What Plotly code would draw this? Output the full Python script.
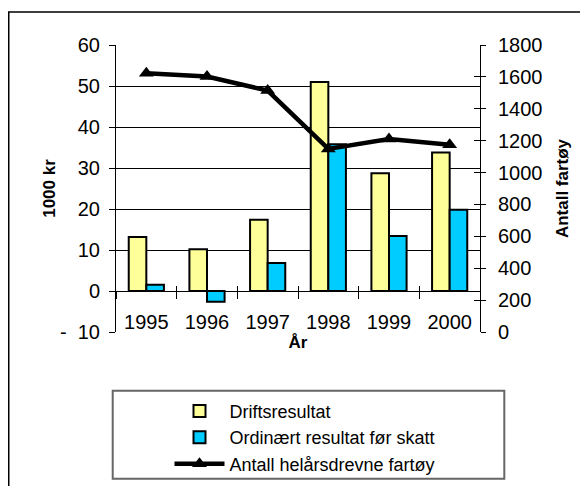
import plotly.graph_objects as go

# ---- data ----
years = ["1995", "1996", "1997", "1998", "1999", "2000"]
driftsresultat = [13.2, 10.2, 17.4, 51.0, 28.7, 33.8]
ordinaert = [1.5, -2.6, 6.8, 35.8, 13.4, 19.8]
fartoy = [1623, 1602, 1514, 1148, 1210, 1175]

left_tickvals = [-10, 0, 10, 20, 30, 40, 50, 60]
left_ticktext = ["-\u00a0\u00a010", "0", "10", "20", "30", "40", "50", "60"]
right_tickvals = [0, 200, 400, 600, 800, 1000, 1200, 1400, 1600, 1800]

FONT = "Arial, Liberation Sans, sans-serif"

# figure is drawn inside the page's 8px body margin
W, H = 580, 478
L, R, T, B = 108, 108, 37, 154
PW, PH = W - L - R, H - T - B


def px(xf):  # figure px -> paper x
    return (xf - L) / PW


def py(yf):  # figure px -> paper y
    return (H - B - yf) / PH


fig = go.Figure()
fig.add_trace(go.Bar(
    name="Driftsresultat", x=years, y=driftsresultat,
    marker=dict(color="#FFFF99", line=dict(color="black", width=2)),
))
fig.add_trace(go.Bar(
    name="Ordinært resultat før skatt", x=years, y=ordinaert,
    marker=dict(color="#00CCFF", line=dict(color="black", width=2)),
))
fig.add_trace(go.Scatter(
    name="Antall helårsdrevne fartøy", x=years, y=fartoy, yaxis="y2",
    mode="lines+markers",
    line=dict(color="black", width=4.5),
    marker=dict(symbol="triangle-up", size=13, color="black"),
))
# helper (invisible) traces so the auxiliary tick axes are drawn
fig.add_trace(go.Scatter(x=years, y=driftsresultat, xaxis="x3", yaxis="y",
                         mode="none", showlegend=False, hoverinfo="skip"))
fig.add_trace(go.Scatter(x=years, y=fartoy, xaxis="x", yaxis="y3",
                         mode="none", showlegend=False, hoverinfo="skip"))

fig.update_layout(
    width=W, height=H,
    margin=dict(l=L, r=R, t=T, b=B, autoexpand=False),
    paper_bgcolor="white", plot_bgcolor="white",
    font=dict(family=FONT, size=20, color="black"),
    barmode="group", bargap=0.42, bargroupgap=0,
    showlegend=True,
    legend=dict(
        x=px(161.5), y=py(384.7), xanchor="left", yanchor="top",
        borderwidth=0, bgcolor="rgba(0,0,0,0)",
        font=dict(size=18, family=FONT),
        itemwidth=50,
    ),
    xaxis=dict(
        type="category", anchor="free", position=1/7, range=[-0.5, 5.5],
        showline=True, linecolor="black", linewidth=1,
        ticks="outside", ticklen=7, tickcolor="black", tickson="boundaries",
        showgrid=False, zeroline=False,
        ticklabelstandoff=13,
        tickfont=dict(size=20),
        title=dict(text="<b>År</b>", font=dict(size=17), standoff=2),
    ),
    xaxis3=dict(
        type="category", overlaying="x", anchor="free", position=1/7, range=[-0.5, 5.5],
        tickson="boundaries", ticks="inside", ticklen=5, tickcolor="black",
        showticklabels=False, showline=False, showgrid=False, zeroline=False,
    ),
    yaxis=dict(
        range=[-10, 60], tickvals=left_tickvals, ticktext=left_ticktext,
        ticks="outside", ticklen=6, tickcolor="black",
        showline=True, linecolor="black", linewidth=1,
        showgrid=True, gridcolor="black", gridwidth=1, zeroline=False,
        ticklabelstandoff=5,
        title=dict(text="<b>1000 kr</b>", font=dict(size=17), standoff=0),
    ),
    yaxis2=dict(
        overlaying="y", side="right", anchor="x", range=[0, 1800], tickvals=right_tickvals,
        ticks="outside", ticklen=5, tickcolor="black",
        showline=True, linecolor="black", linewidth=1,
        showgrid=False, zeroline=False,
        ticklabelstandoff=8,
        title=dict(text="<b>Antall fartøy</b>", font=dict(size=17), standoff=14),
    ),
    yaxis3=dict(
        overlaying="y", side="right", anchor="x", range=[0, 1800], tickvals=right_tickvals,
        ticks="inside", ticklen=6, tickcolor="black",
        showticklabels=False, showline=False, showgrid=False, zeroline=False,
    ),
    shapes=[
        # outer chart frame
        dict(type="rect", xref="paper", yref="paper",
             x0=px(0.75), x1=px(W + 40), y0=py(H + 40), y1=py(4),
             line=dict(color="black", width=1.5), fillcolor="rgba(0,0,0,0)", layer="below"),
        # legend box
        dict(type="rect", xref="paper", yref="paper",
             x0=px(104.7), x1=px(496.3), y0=py(470.7), y1=py(382.7),
             line=dict(color="#666666", width=2), fillcolor="white", layer="above"),
    ],
)

fig.write_html("out.html")
